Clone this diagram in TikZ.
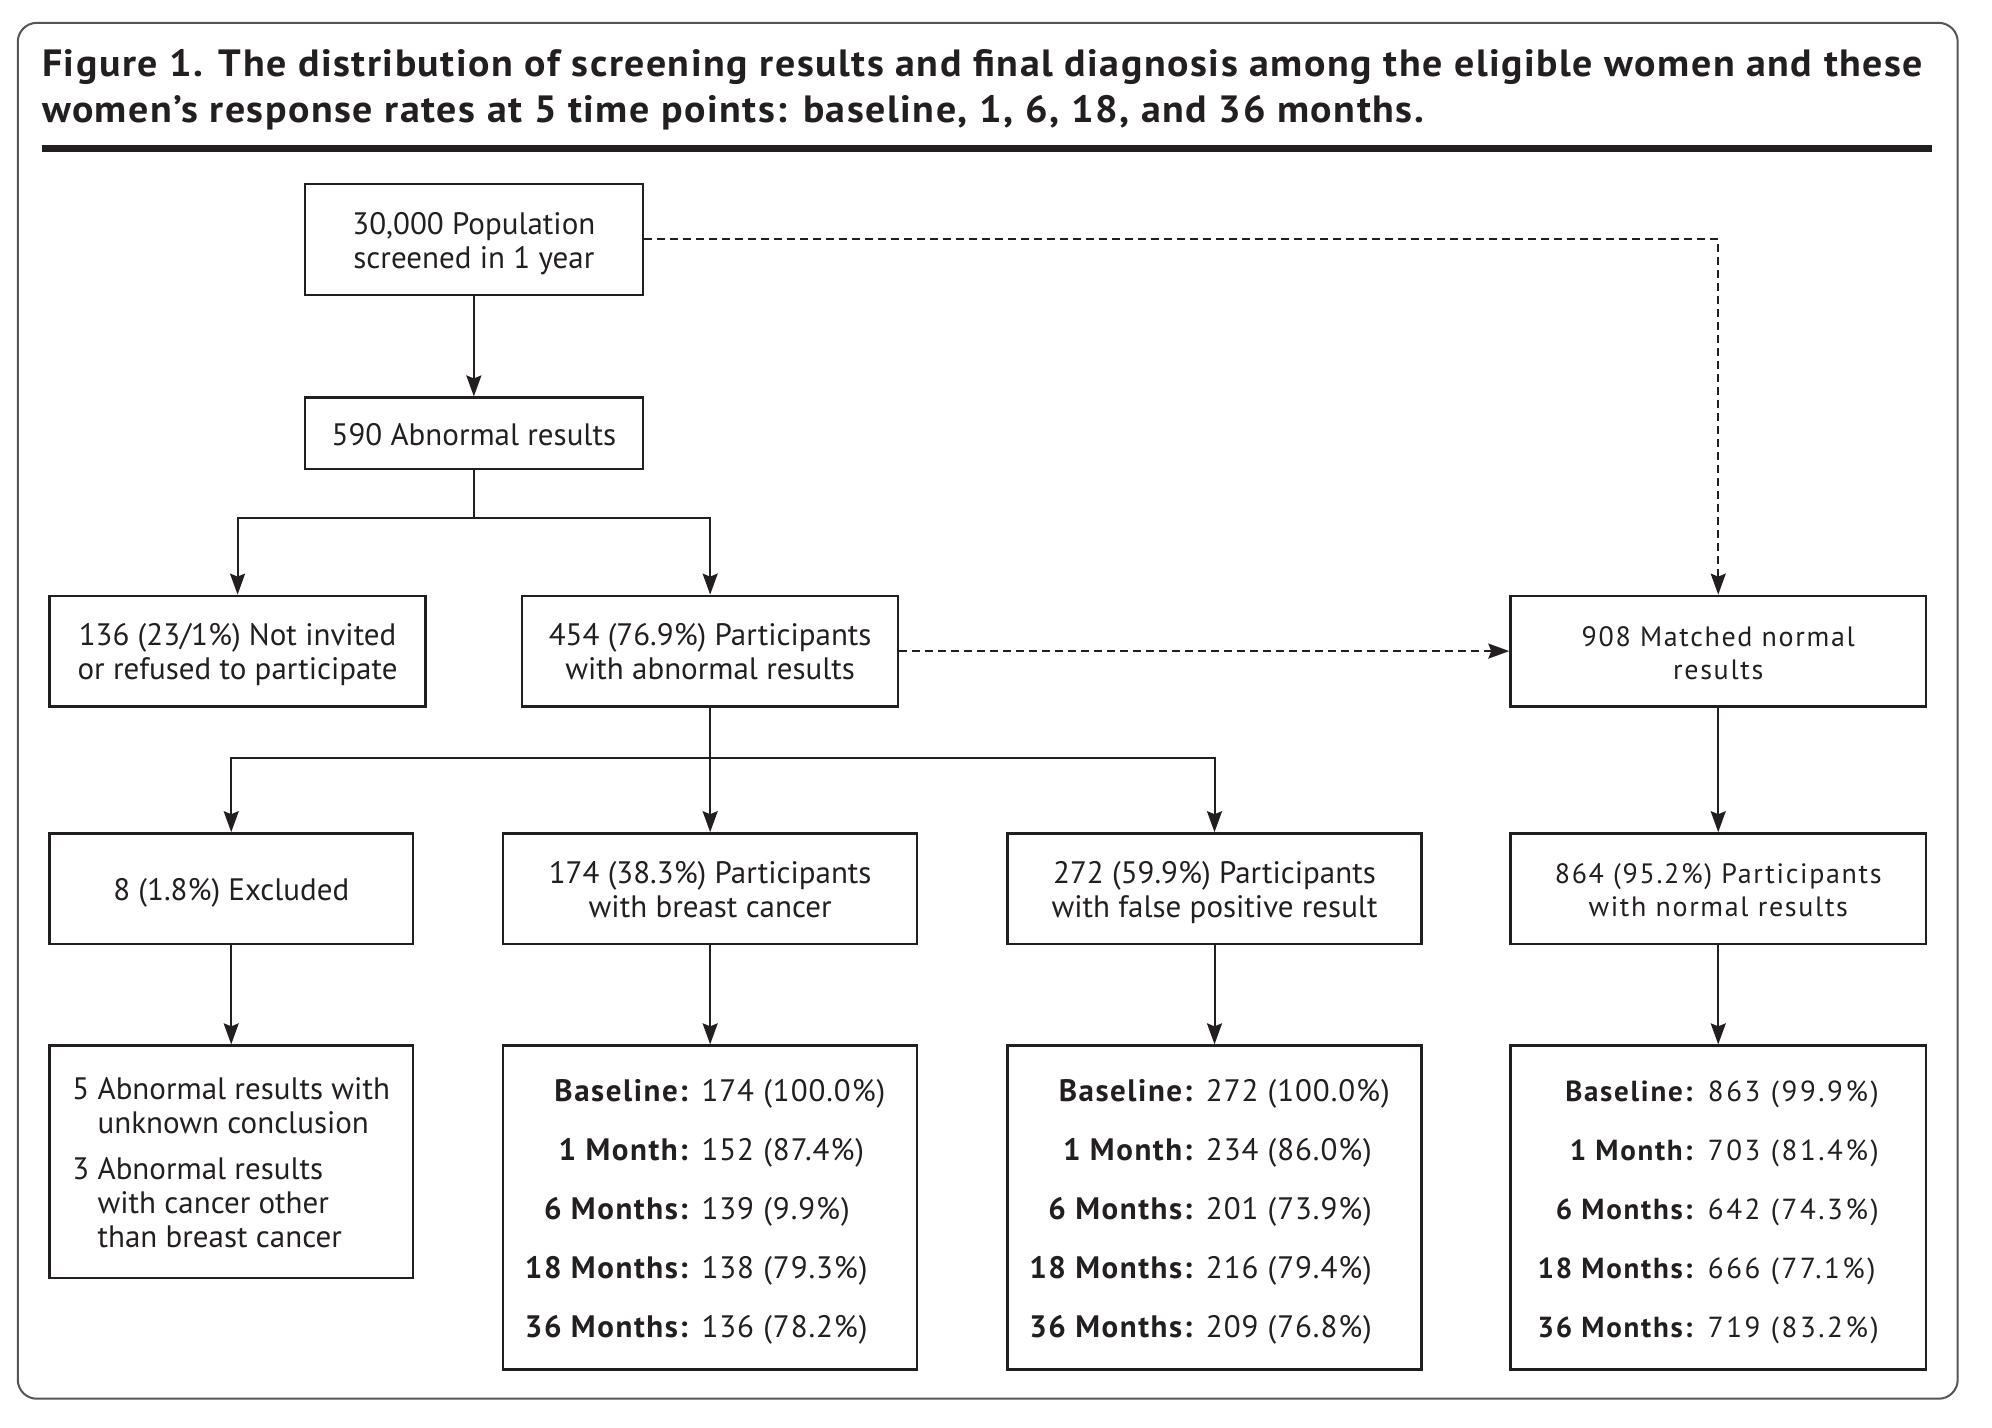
\documentclass[tikz,border=0pt]{standalone}
\usepackage{fontspec}
\setmainfont{PT Sans}
\newfontfamily\bodyfont{PT Sans}
\newfontfamily\rightfont[LetterSpace=6]{PT Sans}
\newfontfamily\statfont[LetterSpace=3, BoldFeatures={LetterSpace=5}]{PT Sans}
\newfontfamily\rstatfont[LetterSpace=9, BoldFeatures={LetterSpace=6}]{PT Sans}
\newfontfamily\titlefont[FakeStretch=1.05, LetterSpace=4]{PT Sans}
\usetikzlibrary{arrows.meta}
\definecolor{txt}{HTML}{231F20}
\definecolor{frame}{HTML}{555555}
\tikzset{
  dims/.style 2 args={minimum width={#1*1.2704pt}, minimum height={#2*1.2704pt}},
  box/.style={draw=txt, line width=2.4pt, inner sep=0pt, align=center, text=txt,
    font=\bodyfont\fontsize{31}{34}\selectfont},
  rbox/.style={box, font=\rightfont\fontsize{28}{33}\selectfont},
  sbox/.style={box, font=\statfont\fontsize{31}{34}\selectfont},
  rsbox/.style={box, font=\rstatfont\fontsize{29}{33}\selectfont},
  conn/.style={draw=txt, line width=2pt, -{Stealth[length=21pt,width=15pt,inset=3pt]}},
  dconn/.style={conn, dash pattern=on 8pt off 5pt},
  line/.style={draw=txt, line width=2pt}
}
\newcommand{\stat}[2]{\textbf{#1:} & #2}
\newcommand{\dn}[1]{\raisebox{-5pt}[\height][\depth]{\begin{tabular}{@{}c@{}}#1\end{tabular}}}
\newcommand{\sdn}[2]{\raisebox{-5pt}[\height][\depth]{#2}\hspace*{#1}}
\begin{document}
\begin{tikzpicture}[x=1.2704pt,y=-1.2704pt]
\useasboundingbox (0,0) rectangle (1568,1124);
\draw[frame, line width=2pt, rounded corners=19pt] (14,18) rectangle (1541,1101);
\node[anchor=west, align=left, text=txt, inner sep=0pt,
  font=\titlefont\bfseries\fontsize{38}{46}\selectfont] (title) at (33,71)
  {Figure 1. The distribution of screening results and final diagnosis among the eligible women and these\\
   women’s response rates at 5 time points: baseline, 1, 6, 18, and 36 months.};
\draw[txt, line width=6.5pt] (33,117) -- (1521,117);

\node[box, dims={266}{87}] (A) at (373,188.5) {\dn{30,000 Population\\screened in 1 year}};
\node[box, dims={266}{56}] (B) at (373,341) {\dn{590 Abnormal results}};
\node[box, dims={296}{87}] (C) at (187,512.5) {\dn{136 (23/1\%) Not invited\\or refused to participate}};
\node[box, dims={296}{87}] (D) at (559,512.5) {\dn{454 (76.9\%) Participants\\with abnormal results}};
\node[rbox, dims={327}{87}] (E) at (1352.5,512.5) {\dn{908 Matched normal\\results}};
\node[box, dims={286}{87}] (F) at (182,699.5) {\dn{8 (1.8\%) Excluded}};
\node[box, dims={326}{87}] (G) at (559,699.5) {\dn{174 (38.3\%) Participants\\with breast cancer}};
\node[box, dims={326}{87}] (H) at (956,699.5) {\dn{272 (59.9\%) Participants\\with false positive result}};
\node[rbox, dims={327}{87}] (I) at (1352.5,699.5) {\dn{864 (95.2\%) Participants\\with normal results}};
\node[box, dims={286}{183}] (J) at (182,914.5)
  {\raisebox{-5pt}[\height][\depth]{\begin{tabular}{@{}l@{ }l@{}}5 & Abnormal results with\\ & unknown conclusion\\[12pt]
   3 & Abnormal results\\ & with cancer other\\ & than breast cancer\end{tabular}}};
\node[sbox, dims={326}{255}] (K) at (559,950.5)
  {\sdn{10pt}{\begin{tabular}{@{}r@{ }l@{}}\stat{Baseline}{174 (100.0\%)}\\[25pt]\stat{1 Month}{152 (87.4\%)}\\[25pt]
   \stat{6 Months}{139 (9.9\%)}\\[25pt]\stat{18 Months}{138 (79.3\%)}\\[25pt]\stat{36 Months}{136 (78.2\%)}\end{tabular}}};
\node[sbox, dims={326}{255}] (L) at (956,950.5)
  {\sdn{10pt}{\begin{tabular}{@{}r@{ }l@{}}\stat{Baseline}{272 (100.0\%)}\\[25pt]\stat{1 Month}{234 (86.0\%)}\\[25pt]
   \stat{6 Months}{201 (73.9\%)}\\[25pt]\stat{18 Months}{216 (79.4\%)}\\[25pt]\stat{36 Months}{209 (76.8\%)}\end{tabular}}};
\node[rsbox, dims={327}{255}] (M) at (1352.5,950.5)
  {\sdn{20pt}{\begin{tabular}{@{}r@{ }l@{}}\stat{Baseline}{863 (99.9\%)}\\[26pt]\stat{1 Month}{703 (81.4\%)}\\[26pt]
   \stat{6 Months}{642 (74.3\%)}\\[26pt]\stat{18 Months}{666 (77.1\%)}\\[26pt]\stat{36 Months}{719 (83.2\%)}\end{tabular}}};

\coordinate (jb) at (373,408);
\coordinate (jd) at (559,597);
\draw[conn] (A) -- (B);
\draw[line] (B.south) -- (jb);
\draw[conn] (jb) -| (C.north);
\draw[conn] (jb) -| (D.north);
\draw[conn] (D) -- (G);
\draw[conn] (jd) -| (F.north);
\draw[conn] (jd) -| (H.north);
\draw[conn] (E) -- (I);
\draw[conn] (F) -- (J);
\draw[conn] (G) -- (K);
\draw[conn] (H) -- (L);
\draw[conn] (I) -- (M);
\draw[dconn] (A.east) -| (E.north);
\draw[dconn] (D.east) -- (E.west);
\end{tikzpicture}
\end{document}
